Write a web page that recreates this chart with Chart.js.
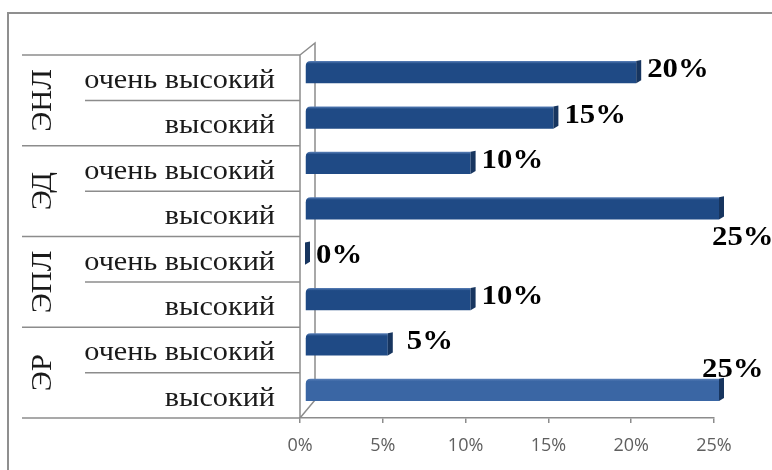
<!DOCTYPE html>
<html>
<head>
<meta charset="utf-8">
<script src="https://cdn.jsdelivr.net/npm/chart.js@4.4.1/dist/chart.umd.min.js"></script>
<style>
  body { margin: 0; background: #fff; }
  #wrap { width: 772px; height: 470px; }
</style>
</head>
<body>
<div id="wrap"><canvas id="chart" width="772" height="470"></canvas></div>
<script>
// data
const levels = ['очень высокий', 'высокий', 'очень высокий', 'высокий', 'очень высокий', 'высокий', 'очень высокий', 'высокий'];
const groups = ['ЭНЛ', 'ЭД', 'ЭПЛ', 'ЭР'];
const values = [20, 15, 10, 25, 0, 10, 5, 25];
const xTicks = [0, 5, 10, 15, 20, 25];

// bar colours (last one lighter like in the picture)
const barColors = ['#1f4a85', '#1f4a85', '#1f4a85', '#1f4a85', '#1f4a85', '#1f4a85', '#1f4a85', '#3a66a4'];
// label nudges for the value labels [dx, dy]
const labelShift = [[6, -2], [6, -2], [6, -2], [-12, 30], [6, 2], [6, -2], [14, -2], [-22, -20]];

const DX = 5, DY = -5.5, SIDE = 5;

// text that looks a bit stretched sideways, like the picture
function stretchText(ctx, text, x, y, sx) {
    ctx.save();
    ctx.translate(x, y);
    ctx.scale(sx, 1);
    ctx.fillText(text, 0, 0);
    ctx.restore();
}

// frame, side wall, row separators and row names
const framePlugin = {
    id: 'frame',
    beforeDraw(chart) {
        const ctx = chart.ctx;
        const area = chart.chartArea;
        const y = chart.scales.y;
        ctx.save();
        ctx.fillStyle = '#fff';
        ctx.fillRect(0, 0, chart.width, chart.height);
        // outer border
        ctx.strokeStyle = '#8f8f8f';
        ctx.lineWidth = 2;
        ctx.strokeRect(8, 13, 820, 520);

        ctx.strokeStyle = '#8c8c8c';
        ctx.lineWidth = 1.5;
        // side wall
        ctx.beginPath();
        ctx.moveTo(area.left, area.top);
        ctx.lineTo(area.left, area.bottom);
        ctx.moveTo(area.left, area.top);
        ctx.lineTo(area.left + 15, area.top - 12);
        ctx.lineTo(area.left + 15, area.bottom - 18);
        ctx.lineTo(area.left, area.bottom);
        ctx.stroke();

        // row lines
        const n = levels.length;
        for (let i = 0; i <= n; i++) {
            let py;
            if (i === 0) py = area.top;
            else if (i === n) py = area.bottom;
            else py = (y.getPixelForValue(i - 1) + y.getPixelForValue(i)) / 2;
            const x0 = (i % 2 === 0) ? 22 : 85;
            ctx.beginPath();
            ctx.moveTo(x0, py);
            ctx.lineTo(area.left, py);
            ctx.stroke();
        }

        // row names
        ctx.fillStyle = '#1a1a1a';
        ctx.font = '28px "Liberation Serif"';
        ctx.textAlign = 'right';
        ctx.textBaseline = 'middle';
        levels.forEach((t, i) => {
            stretchText(ctx, t, area.left - 25, y.getPixelForValue(i) + 3, 1.08);
        });

        // group names, rotated
        ctx.font = '29px "Liberation Serif"';
        ctx.textAlign = 'center';
        groups.forEach((g, gi) => {
            const cy = (y.getPixelForValue(gi * 2) + y.getPixelForValue(gi * 2 + 1)) / 2;
            ctx.save();
            ctx.translate(43, cy);
            ctx.rotate(-Math.PI / 2);
            ctx.scale(1.05, 1);
            ctx.fillText(g, 0, 0);
            ctx.restore();
        });
        ctx.restore();
    }
};

// 3d-looking bars and value labels
const barsPlugin = {
    id: 'bars3d',
    afterDatasetsDraw(chart) {
        const ctx = chart.ctx;
        const meta = chart.getDatasetMeta(0);
        ctx.save();
        meta.data.forEach((el, i) => {
            const h = el.height;
            const left = el.base + DX;
            const right = el.x + DX;
            const top = el.y - h / 2 + DY;
            const col = barColors[i];

            // front face
            if (right - left > 0.5) {
                const g = ctx.createLinearGradient(0, top, 0, top + h);
                g.addColorStop(0, '#5a80b8');
                g.addColorStop(0.12, col);
                g.addColorStop(1, col);
                ctx.fillStyle = g;
                ctx.beginPath();
                ctx.moveTo(left, top + h);
                ctx.lineTo(left, top + 5);
                ctx.quadraticCurveTo(left, top, left + 5, top);
                ctx.lineTo(right, top);
                ctx.lineTo(right, top + h);
                ctx.closePath();
                ctx.fill();
            }
            // side face
            ctx.fillStyle = '#17355f';
            ctx.beginPath();
            ctx.moveTo(right, top);
            ctx.lineTo(right + SIDE, top - 1);
            ctx.lineTo(right + SIDE, top + h - 3);
            ctx.lineTo(right, top + h);
            ctx.closePath();
            ctx.fill();

            // value label
            ctx.fillStyle = '#000';
            ctx.font = 'bold 27px "Liberation Serif"';
            ctx.textAlign = 'left';
            ctx.textBaseline = 'middle';
            const s = labelShift[i];
            stretchText(ctx, values[i] + '%', right + SIDE + s[0], el.y + DY + s[1], 1.14);
        });
        ctx.restore();
    }
};

new Chart(document.getElementById('chart').getContext('2d'), {
    type: 'bar',
    data: {
        labels: levels,
        datasets: [{
            data: values,
            backgroundColor: 'rgba(0,0,0,0)',
            borderWidth: 0,
            barPercentage: 0.49,
            categoryPercentage: 1
        }]
    },
    options: {
        indexAxis: 'y',
        responsive: false,
        animation: false,
        layout: { padding: { top: 55, right: 58, bottom: 0, left: 0 } },
        plugins: {
            legend: { display: false },
            tooltip: { enabled: false }
        },
        scales: {
            x: {
                min: 0,
                max: 25,
                afterBuildTicks(scale) {
                    scale.ticks = xTicks.map(v => ({ value: v }));
                },
                afterFit(scale) { scale.height = 52; },
                ticks: {
                    callback: v => v + '%',
                    color: '#5f5f5f',
                    font: { family: 'Open Sans', size: 18 },
                    padding: 12
                },
                grid: {
                    drawOnChartArea: false,
                    drawTicks: true,
                    tickLength: 5,
                    color: '#8c8c8c',
                    lineWidth: 1.5
                },
                border: { display: true, color: '#8c8c8c', width: 1.5 }
            },
            y: {
                afterFit(scale) { scale.width = 300; },
                ticks: { display: false },
                grid: { display: false, drawTicks: false },
                border: { display: false }
            }
        }
    },
    plugins: [framePlugin, barsPlugin]
});
</script>
</body>
</html>
